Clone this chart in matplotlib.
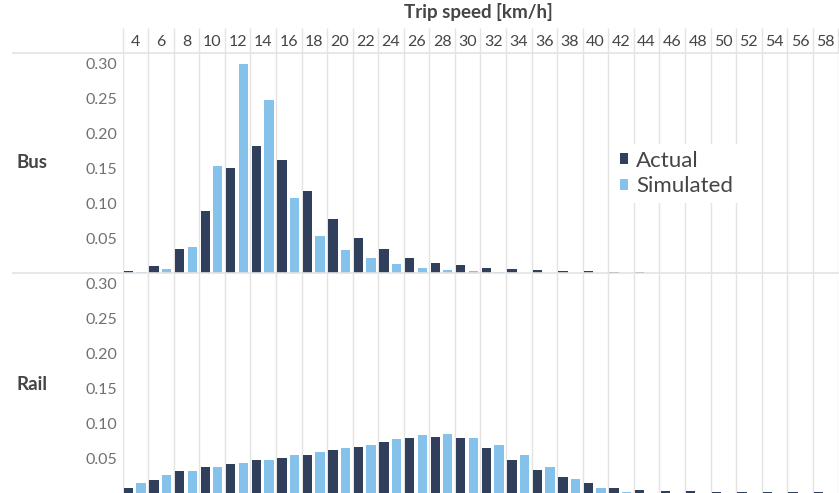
import matplotlib
matplotlib.use("Agg")
import matplotlib.pyplot as plt
import numpy as np

plt.rcParams['font.family'] = ['Lato', 'DejaVu Sans']

# ---------------- data ----------------
speeds = list(range(4, 60, 2))  # 4..58 km/h
panels = ["Bus", "Rail"]
series_names = ["Actual", "Simulated"]

bus_actual = [0.0033, 0.0096, 0.0344, 0.0885, 0.151, 0.182, 0.162, 0.117, 0.078, 0.0507,
              0.0344, 0.0215, 0.0143, 0.011, 0.0077, 0.0053, 0.0038, 0.003, 0.0024, 0.0015,
              0.0012, 0, 0, 0, 0, 0, 0, 0]
bus_simulated = [0.0014, 0.0062, 0.0368, 0.1535, 0.300, 0.248, 0.1076, 0.053, 0.0335, 0.022,
                 0.013, 0.0077, 0.0048, 0.0024, 0.0019, 0.0005, 0, 0, 0, 0,
                 0, 0, 0, 0, 0, 0, 0, 0]
rail_actual = [0.0086, 0.020, 0.0324, 0.0386, 0.043, 0.048, 0.052, 0.0557, 0.0629, 0.0676,
               0.0743, 0.080, 0.0816, 0.0793, 0.066, 0.0486, 0.0343, 0.0238, 0.0152, 0.009,
               0.0057, 0.0043, 0.0043, 0.003, 0.003, 0.003, 0.003, 0.0025]
rail_simulated = [0.0152, 0.0267, 0.0324, 0.038, 0.0443, 0.0486, 0.055, 0.0595, 0.0657, 0.070,
                  0.0786, 0.0843, 0.0857, 0.080, 0.0695, 0.055, 0.038, 0.021, 0.0086, 0.003,
                  0, 0, 0, 0, 0, 0, 0, 0]
y_ticks = [0.05, 0.10, 0.15, 0.20, 0.25, 0.30]

# ---------------- style ----------------
W, H = 839, 493
DARK = '#303f5c'
LIGHT = '#84c2eb'
GRID = '#e3e3e3'
TXT = '#454545'
TICK_TXT = '#707070'

fig = plt.figure(figsize=(W / 100, H / 100), dpi=100)
fig.patch.set_facecolor('white')

x_left, x_right = 122.7, 838.3
def px_axes(top, bottom):
    return [x_left / W, (H - bottom) / H, (x_right - x_left) / W, (bottom - top) / H]

ax_bus = fig.add_axes(px_axes(53, 273))
ax_rail = fig.add_axes(px_axes(273, 494))

x = np.arange(len(speeds))
bw = 0.365
data = {"Bus": (bus_actual, bus_simulated), "Rail": (rail_actual, rail_simulated)}

handles = None
for ax, name in zip([ax_bus, ax_rail], panels):
    act, sim = data[name]
    b1 = ax.bar(x - 0.27, act, width=bw, color=DARK, zorder=3, label=series_names[0])
    b2 = ax.bar(x + 0.22, sim, width=bw, color=LIGHT, zorder=3, label=series_names[1])
    if handles is None:
        handles = [b1, b2]
    ax.set_xlim(-0.5, len(speeds) - 0.5)
    ax.set_ylim(0, 0.3157)
    for s in ax.spines.values():
        s.set_visible(False)
    ax.set_xticks(np.arange(-0.5, len(speeds), 1), minor=True)
    ax.grid(which='minor', axis='x', color=GRID, lw=1.0, zorder=0)
    ax.tick_params(which='minor', length=0)
    ax.set_yticks(y_ticks)
    ax.set_yticklabels([f"{v:.2f}" for v in y_ticks], color=TICK_TXT, fontsize=11.5)
    ax.tick_params(axis='y', length=0, pad=4)
    # horizontal separator at top of panel
    ax.plot([-0.153, 1.0], [1, 1], transform=ax.transAxes, color=GRID, lw=1.2, clip_on=False, zorder=1)
    fig.text(17 / W, 1 - ((163 if name == "Bus" else 384) / H), name, fontsize=13.5,
             fontweight='bold', color=TXT, ha='left', va='center')

# header (x labels on top)
ax_bus.xaxis.tick_top()
ax_bus.set_xticks(x)
ax_bus.set_xticklabels([str(s) for s in speeds], fontsize=11.5, color=TXT)
ax_bus.tick_params(axis='x', which='major', length=0, pad=3)
ax_rail.set_xticks(x)
ax_rail.set_xticklabels([])
ax_rail.tick_params(axis='x', which='major', length=0)
ax_bus.vlines(np.arange(-0.5, len(speeds), 1), 1, 1 + 25 / 220,
              transform=ax_bus.get_xaxis_transform(), color=GRID, lw=1.0, clip_on=False)

fig.text(478 / W, 1 - 12 / H, "Trip speed [km/h]", fontsize=13.5, fontweight='bold',
         color=TXT, ha='center', va='center')

leg = ax_bus.legend(handles=handles, labels=series_names, loc='upper left',
                    bbox_to_anchor=((602 - x_left) / (x_right - x_left), (273 - 133) / 220),
                    fontsize=16, labelcolor=TXT, frameon=True, fancybox=False,
                    handlelength=0.38, handleheight=0.38, handletextpad=0.35,
                    labelspacing=0.25, borderpad=0.3)
leg.get_frame().set_edgecolor('none')
leg.get_frame().set_facecolor('white')
leg.get_frame().set_alpha(1)
leg.set_zorder(5)

fig.savefig('out.png', dpi=100, facecolor='white')
